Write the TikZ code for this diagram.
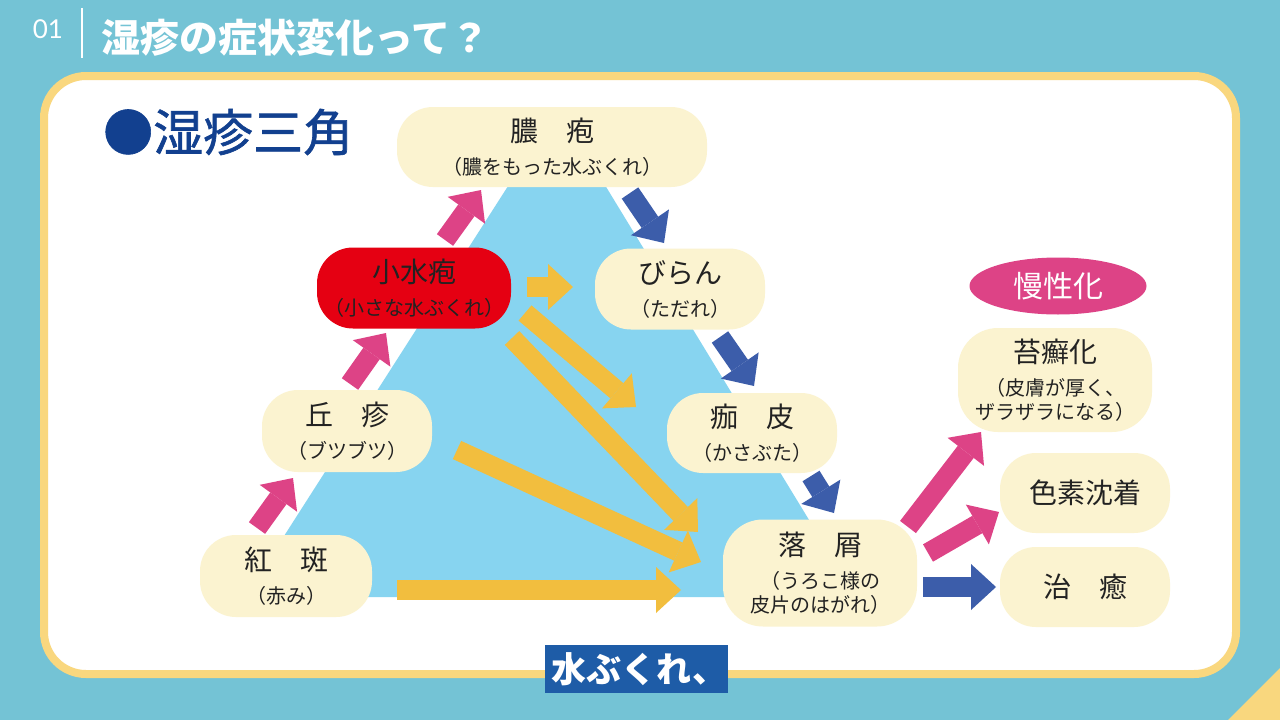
\documentclass[tikz,border=0pt]{standalone}
\usepackage{fontspec}
\setmainfont{Noto Sans CJK JP}
\newfontfamily\numfont{Lato}
\newfontfamily\medfont[FakeBold=1.2]{Noto Sans CJK JP}
\usetikzlibrary{arrows.meta,shapes.geometric}
\definecolor{bg}{HTML}{74C3D5}
\definecolor{panelb}{HTML}{F9D77E}
\definecolor{tri}{HTML}{87D4F0}
\definecolor{cream}{HTML}{FBF3D0}
\definecolor{redbox}{HTML}{E50012}
\definecolor{pinkA}{HTML}{DD4386}
\definecolor{blueA}{HTML}{3C5DAA}
\definecolor{yelA}{HTML}{F2BE3E}
\definecolor{ttl}{HTML}{12408F}
\definecolor{capbox}{HTML}{1E5CA7}
\definecolor{txt}{HTML}{222222}
\newcommand\mtxt[1]{{\fontsize{28}{24}\selectfont #1}}
\tikzset{
  box/.style={fill=cream, rounded corners=36pt, align=center, text=txt,
    font=\fontsize{20}{24}\selectfont, inner sep=0pt},
  blk/.style={line width=20pt, -{Triangle[length=25pt,width=46pt,line width=0pt]}},
}
\begin{document}
\begin{tikzpicture}[x=1pt,y=-1pt]
\useasboundingbox (0,0) rectangle (1280,720);
\fill[bg] (0,0) rectangle (1280,720);
\fill[panelb] (1228,720) -- (1280,668) -- (1280,720) -- cycle;
% header
\node[text=white, font=\numfont\fontsize{26}{26}\selectfont, inner sep=0pt] (num) at (48,29) {01};
\draw[white, line width=2.5pt] (82,8) -- (82,58);
\node[anchor=west, inner sep=0pt, text=white, font=\bfseries\fontsize{39}{39}\selectfont] (title) at (101,38) {湿疹の症状変化って？};
% panel
\draw[line width=8pt, draw=panelb, fill=white, rounded corners=42pt] (44,76) rectangle (1236,674);
\node[anchor=west, inner sep=0pt, text=ttl, font=\medfont\fontsize{50}{50}\selectfont] (head) at (103,132) {●湿疹三角};
% triangle
\fill[tri] (245,597) -- (558,108) -- (856,597) -- cycle;
% arrow coordinates
\coordinate (p1s) at (257,528); \coordinate (p1e) at (293,478);
\coordinate (p2s) at (350,384); \coordinate (p2e) at (386,333);
\coordinate (p3s) at (445,240); \coordinate (p3e) at (481,190);
\coordinate (b1s) at (630,193); \coordinate (b1e) at (664,243);
\coordinate (b2s) at (720,337); \coordinate (b2e) at (754,386);
\coordinate (b3s) at (811,476); \coordinate (b3e) at (834,513);
\coordinate (b4s) at (923,587); \coordinate (b4e) at (996,587);
\coordinate (p4s) at (908,527); \coordinate (p4e) at (981,432);
\coordinate (p5s) at (928,553); \coordinate (p5e) at (999,512);
\coordinate (y1s) at (527,287); \coordinate (y1e) at (573,287);
\coordinate (y2s) at (525,313); \coordinate (y2e) at (636,407);
\coordinate (y3s) at (512,338); \coordinate (y3e) at (698,532);
\coordinate (y4s) at (457,450); \coordinate (y4e) at (701,562);
\coordinate (y5s) at (397,590); \coordinate (y5e) at (681,590);
% arrows
\draw[blk, pinkA] (p1s) -- (p1e);
\draw[blk, pinkA] (p2s) -- (p2e);
\draw[blk, pinkA] (p3s) -- (p3e);
\draw[blk, blueA] (b1s) -- (b1e);
\draw[blk, blueA] (b2s) -- (b2e);
\draw[blk, blueA] (b3s) -- (b3e);
\draw[blk, blueA] (b4s) -- (b4e);
\draw[blk, pinkA] (p4s) -- (p4e);
\draw[blk, pinkA] (p5s) -- (p5e);
\draw[blk, yelA] (y1s) -- (y1e);
\draw[blk, yelA] (y2s) -- (y2e);
\draw[blk, yelA] (y3s) -- (y3e);
\draw[blk, yelA] (y4s) -- (y4e);
\draw[blk, yelA] (y5s) -- (y5e);
% nodes
\node[box, minimum width=310pt, minimum height=80pt] (pus) at (552,147) {\mtxt{膿　疱}\\[9pt]（膿をもった水ぶくれ）};
\node[box, fill=redbox, minimum width=194pt, minimum height=81pt] (ves) at (414,288) {\mtxt{小水疱}\\[9pt]（小さな水ぶくれ）};
\node[box, minimum width=170pt, minimum height=81pt] (ero) at (680,289) {\mtxt{びらん}\\[9pt]（ただれ）};
\node[box, minimum width=170pt, minimum height=82pt] (pap) at (347,431) {\mtxt{丘　疹}\\[9pt]（ブツブツ）};
\node[box, minimum width=170pt, minimum height=80pt] (cru) at (752,433) {\mtxt{痂　皮}\\[9pt]（かさぶた）};
\node[box, minimum width=172pt, minimum height=82pt] (ery) at (286,576) {\mtxt{紅　斑}\\[9pt]（赤み）};
\node[box, minimum width=194pt, minimum height=107pt, rounded corners=40pt] (des) at (820,573) {\mtxt{落　屑}\\[9pt]（うろこ様の\\皮片のはがれ）};
\node[ellipse, fill=pinkA, minimum width=177pt, minimum height=57pt, inner sep=0pt, text=white, font=\fontsize{30}{30}\selectfont] (chr) at (1058,286) {慢性化};
\node[box, minimum width=194pt, minimum height=104pt, rounded corners=40pt] (lic) at (1055,380) {\mtxt{苔癬化}\\[9pt]（皮膚が厚く、\\ザラザラになる）};
\node[box, minimum width=170pt, minimum height=80pt] (pig) at (1085,493) {\mtxt{色素沈着}};
\node[box, minimum width=170pt, minimum height=80pt] (hea) at (1085,587) {\mtxt{治　癒}};
% caption
\node[fill=capbox, text=white, font=\bfseries\fontsize{35}{35}\selectfont, minimum width=183pt, minimum height=48pt, inner sep=0pt] (cap) at (636.5,669) {\hspace{6pt}水ぶくれ、};
\end{tikzpicture}
\end{document}
